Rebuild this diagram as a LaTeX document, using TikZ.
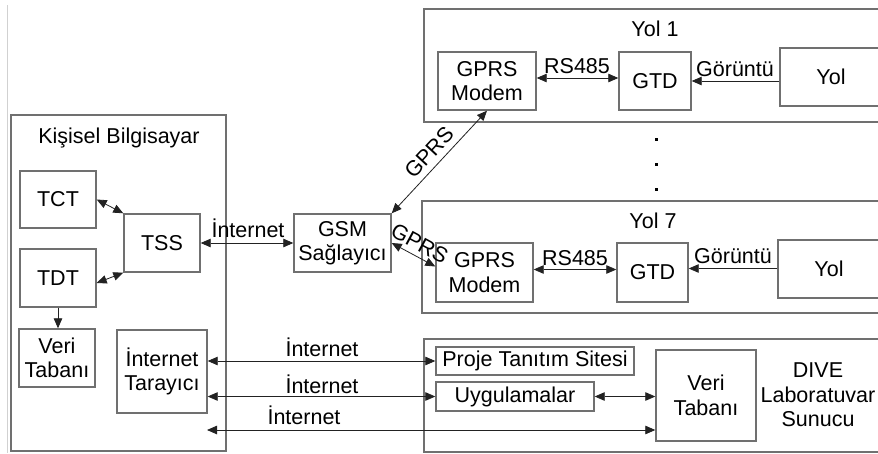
\documentclass[tikz,border=0pt]{standalone}
\usepackage{fontspec}
\setmainfont{Liberation Sans}
\usetikzlibrary{arrows.meta,calc}
\definecolor{boxgray}{HTML}{707070}
\definecolor{linegray}{HTML}{222222}
\newcommand\dgfont{\fontsize{21.5}{24.5}\selectfont}
\begin{document}
\begin{tikzpicture}[x=1pt,y=-1pt,
  >={Triangle[length=10pt,width=8.5pt]},
  box/.style={draw=boxgray, line width=1.4pt, inner sep=0pt, align=center, font=\dgfont},
  conn/.style={draw=linegray, line width=0.8pt},
  lbl/.style={inner sep=0pt, font=\dgfont, anchor=base},
  slbl/.style={inner sep=0pt, font=\dgfont, sloped, midway}]
\clip (0,0) rectangle (878,453);
\fill[white] (0,0) rectangle (878,453);
\draw[black!18, line width=0.8pt] (7,5) -- (7,453);

% Kisisel Bilgisayar
\node[box, minimum width=215pt, minimum height=336pt] (kb) at (118.5,283) {};
\node[lbl] (kbt) at (119,143) {Kişisel Bilgisayar};
\node[box, minimum width=76pt, minimum height=57pt] (tct) at (58,199.5) {TCT};
\node[box, minimum width=76pt, minimum height=58pt] (tdt) at (58,278) {TDT};
\node[box, minimum width=76pt, minimum height=58pt] (vt1) at (57,358) {Veri\\Tabanı};
\node[box, minimum width=76pt, minimum height=58pt] (tss) at (162,243) {TSS};
\node[box, minimum width=90pt, minimum height=83pt] (it) at (162,371.5) {İnternet\\Tarayıcı};

% GSM
\node[box, minimum width=97pt, minimum height=58pt] (gsm) at (342.5,243) {GSM\\Sağlayıcı};

% Yol 1
\node[box, minimum width=476pt, minimum height=113pt] (y1) at (662,65.5) {};
\node[lbl] (y1t) at (655,36) {Yol 1};
\node[box, minimum width=98pt, minimum height=58pt] (gm1) at (487,81) {GPRS\\Modem};
\node[box, minimum width=72pt, minimum height=58pt] (gtd1) at (655,81) {GTD};
\node[box, minimum width=102pt, minimum height=58pt] (road1) at (831,77) {Yol};

% dots
\fill (654.5,137.5) rectangle +(3,3);
\fill (654.5,162.5) rectangle +(3,3);
\fill (654.5,187.5) rectangle +(3,3);

% Yol 7
\node[box, minimum width=478pt, minimum height=112pt] (y7) at (661,257) {};
\node[lbl] (y7t) at (653,228) {Yol 7};
\node[box, minimum width=97pt, minimum height=59pt] (gm7) at (484.5,272.5) {GPRS\\Modem};
\node[box, minimum width=71pt, minimum height=59pt] (gtd7) at (652.5,272.5) {GTD};
\node[box, minimum width=102pt, minimum height=58pt] (road7) at (829,269) {Yol};

% DIVE
\node[box, minimum width=476pt, minimum height=113pt] (dive) at (662,395.5) {};
\node[box, minimum width=198pt, minimum height=28pt] (proje) at (535,361) {Proje Tanıtım Sitesi};
\node[box, minimum width=158pt, minimum height=29pt] (uyg) at (515,396.5) {Uygulamalar};
\node[box, minimum width=100pt, minimum height=91pt] (vt2) at (706,395.5) {Veri\\Tabanı};
\node[inner sep=0pt, align=center, font=\dgfont] (divet) at (818,395) {DIVE\\Laboratuvar\\Sunucu};

% connectors inside PC
\draw[conn,<->] (tct.east) -- (tss.north west);
\draw[conn,<->] ($(tdt.east)+(0,5)$) -- (tss.south west);
\draw[conn,->] (tdt.south) -- (tdt.south |- vt1.north);

% TSS - GSM
\draw[conn,<->] (tss.east) -- (gsm.west);
\node[lbl] (l1) at (248,237) {İnternet};

% GSM - modems
\draw[conn,<->] (gsm.north east) -- (gm1.south) node[slbl, above=6pt] (g1) {GPRS};
\draw[conn,<->] (gsm.east) -- ($(gm7.west)+(0,-6)$) node[slbl, above=5pt] (g7) {GPRS};

% Yol 1 connectors
\draw[conn,<->] ($(gm1.east)+(0,-3)$) -- ($(gtd1.west)+(0,-3)$);
\node[lbl] (r1) at (577,73) {RS485};
\draw[conn,->] (road1.west |- gtd1.east) -- (gtd1.east);
\node[lbl] (v1) at (735,76) {Görüntü};

% Yol 7 connectors
\draw[conn,<->] ($(gm7.east)+(0,-3)$) -- ($(gtd7.west)+(0,-3)$);
\node[lbl] (r7) at (575,265) {RS485};
\draw[conn,->] ($(road7.west |- gtd7.east)+(0,-4)$) -- ($(gtd7.east)+(0,-4)$);
\node[lbl] (v7) at (733,263) {Görüntü};

% Internet links to DIVE
\draw[conn,<->] (it.east |- proje.west) -- (proje.west);
\node[lbl] (l2) at (322,356) {İnternet};
\draw[conn,<->] (it.east |- uyg.west) -- (uyg.west);
\node[lbl] (l3) at (322,393) {İnternet};
\coordinate (a3) at (207,430);
\draw[conn,<->] (a3) -- (a3 -| vt2.west);
\node[lbl] (l4) at (304,424) {İnternet};
\draw[conn,<->] (uyg.east) -- (uyg.east -| vt2.west);
\end{tikzpicture}
\end{document}
